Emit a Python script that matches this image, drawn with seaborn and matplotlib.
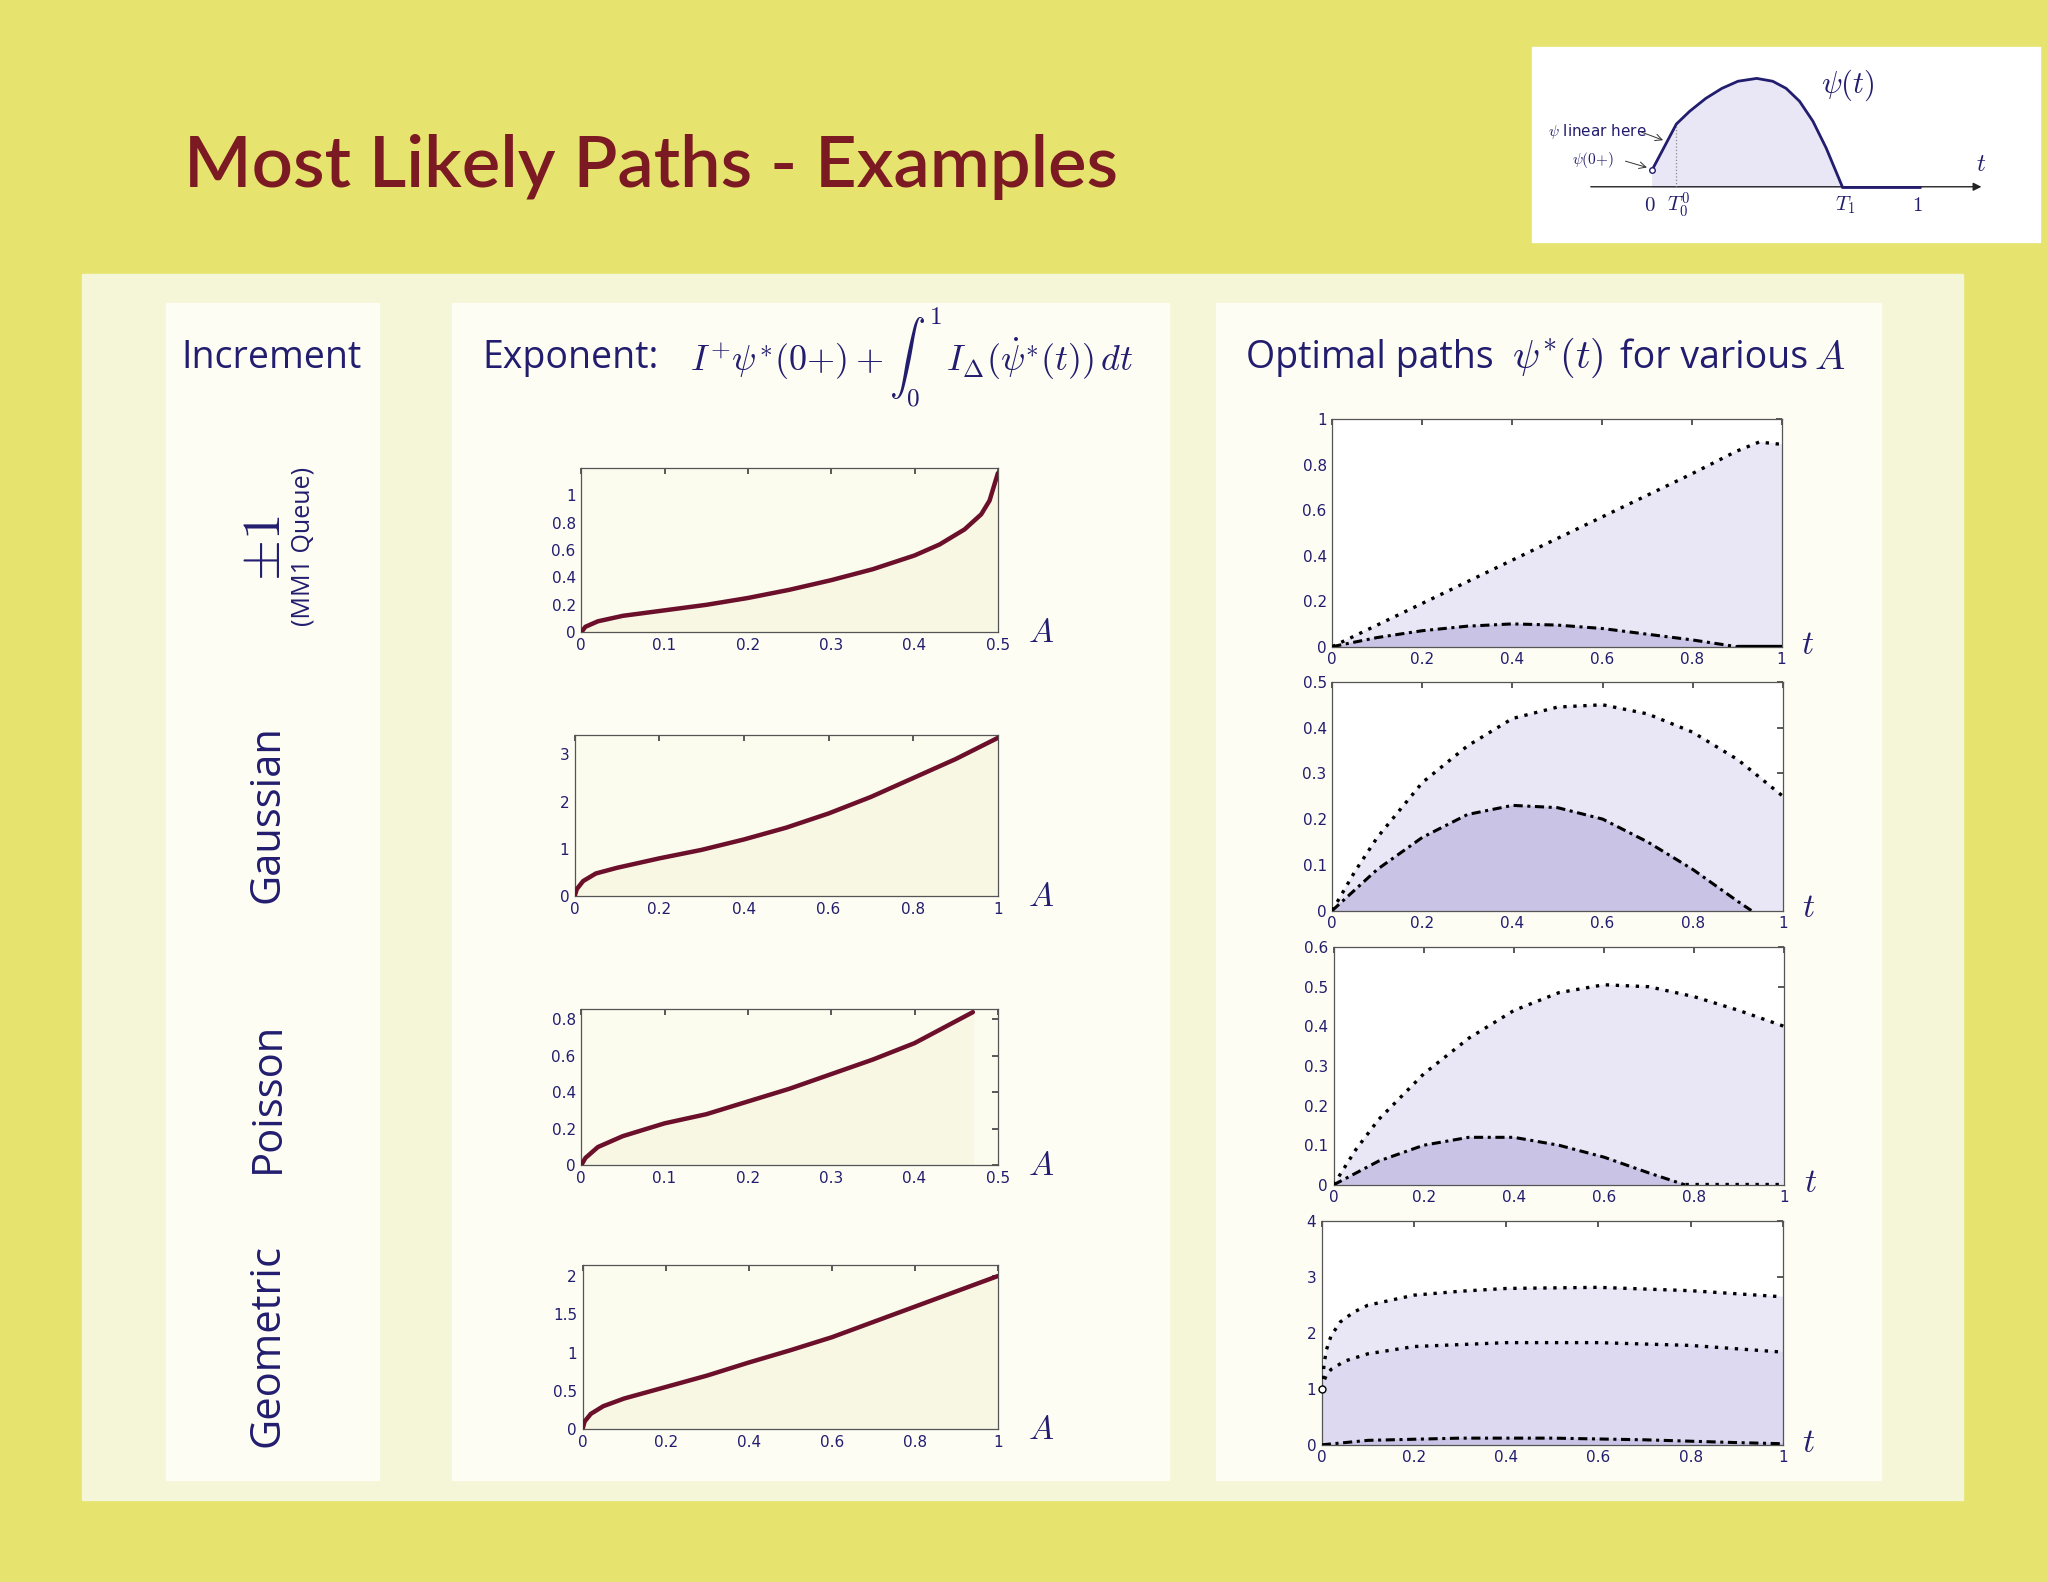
import matplotlib
matplotlib.use("Agg")
import matplotlib.pyplot as plt
import seaborn as sns
import numpy as np
from matplotlib.patches import Rectangle, FancyArrowPatch

sns.set_theme(style="white")
plt.rcParams['font.family'] = ['DejaVu Sans']
plt.rcParams['mathtext.fontset'] = 'cm'

# ---------------- data ----------------
row_labels = ["±1", "Gaussian", "Poisson", "Geometric"]

exp_A = [
    [0, 0.005, 0.02, 0.05, 0.1, 0.15, 0.2, 0.25, 0.3, 0.35, 0.4, 0.43, 0.46, 0.48, 0.49, 0.5],
    [0, 0.005, 0.02, 0.05, 0.1, 0.2, 0.3, 0.4, 0.5, 0.6, 0.7, 0.8, 0.9, 1.0],
    [0, 0.005, 0.02, 0.05, 0.1, 0.15, 0.2, 0.25, 0.3, 0.35, 0.4, 0.47],
    [0, 0.005, 0.02, 0.05, 0.1, 0.2, 0.3, 0.4, 0.5, 0.6, 0.7, 0.8, 0.9, 1.0],
]
exp_val = [
    [0, 0.04, 0.08, 0.12, 0.16, 0.2, 0.25, 0.31, 0.38, 0.46, 0.56, 0.64, 0.75, 0.86, 0.96, 1.16],
    [0, 0.15, 0.32, 0.48, 0.6, 0.8, 0.98, 1.2, 1.45, 1.75, 2.1, 2.5, 2.9, 3.35],
    [0, 0.04, 0.1, 0.16, 0.23, 0.28, 0.35, 0.42, 0.5, 0.58, 0.67, 0.84],
    [0, 0.1, 0.2, 0.3, 0.4, 0.55, 0.7, 0.87, 1.03, 1.2, 1.4, 1.6, 1.8, 2.0],
]
exp_xlim = [0.5, 1, 0.5, 1]
exp_ylim = [1.2, 3.4, 0.86, 2.15]
exp_xticks = [[0, 0.1, 0.2, 0.3, 0.4, 0.5], [0, 0.2, 0.4, 0.6, 0.8, 1],
              [0, 0.1, 0.2, 0.3, 0.4, 0.5], [0, 0.2, 0.4, 0.6, 0.8, 1]]
exp_yticks = [[0, 0.2, 0.4, 0.6, 0.8, 1], [0, 1, 2, 3],
              [0, 0.2, 0.4, 0.6, 0.8], [0, 0.5, 1, 1.5, 2]]

t_outer = [
    [0, 0.2, 0.4, 0.6, 0.8, 0.9, 0.95, 1.0],
    [0, 0.05, 0.1, 0.2, 0.3, 0.4, 0.5, 0.6, 0.7, 0.8, 0.9, 1.0],
    [0, 0.05, 0.1, 0.2, 0.3, 0.4, 0.5, 0.6, 0.7, 0.8, 0.9, 1.0],
    [0, 0.005, 0.01, 0.02, 0.04, 0.07, 0.1, 0.2, 0.3, 0.4, 0.6, 0.8, 1.0],
]
outer = [
    [0, 0.19, 0.38, 0.57, 0.76, 0.86, 0.9, 0.89],
    [0, 0.085, 0.16, 0.28, 0.36, 0.42, 0.445, 0.45, 0.43, 0.39, 0.33, 0.25],
    [0, 0.09, 0.165, 0.28, 0.37, 0.44, 0.485, 0.505, 0.5, 0.475, 0.44, 0.4],
    [1, 1.45, 1.7, 1.95, 2.2, 2.38, 2.5, 2.68, 2.75, 2.8, 2.82, 2.76, 2.65],
]
t_inner = [
    [0, 0.1, 0.2, 0.3, 0.4, 0.5, 0.6, 0.7, 0.8, 0.9],
    [0, 0.1, 0.2, 0.3, 0.4, 0.5, 0.6, 0.7, 0.8, 0.9, 0.93],
    [0, 0.1, 0.2, 0.3, 0.4, 0.5, 0.6, 0.7, 0.78],
    [0, 0.1, 0.3, 0.5, 0.7, 0.9, 1.0],
]
inner = [
    [0, 0.04, 0.07, 0.09, 0.1, 0.095, 0.08, 0.055, 0.03, 0.0],
    [0, 0.09, 0.16, 0.21, 0.23, 0.225, 0.2, 0.15, 0.09, 0.02, 0.0],
    [0, 0.06, 0.1, 0.12, 0.12, 0.1, 0.07, 0.03, 0.0],
    [0, 0.08, 0.12, 0.12, 0.09, 0.04, 0.02],
]
t_mid4 = [0, 0.005, 0.01, 0.02, 0.05, 0.1, 0.2, 0.4, 0.6, 0.8, 1.0]
mid4 = [1, 1.15, 1.25, 1.35, 1.5, 1.63, 1.76, 1.83, 1.83, 1.78, 1.66]
opt_ylim = [1, 0.5, 0.6, 4]
opt_yticks = [[0, 0.2, 0.4, 0.6, 0.8, 1], [0, 0.1, 0.2, 0.3, 0.4, 0.5],
              [0, 0.1, 0.2, 0.3, 0.4, 0.5, 0.6], [0, 1, 2, 3, 4]]
opt_xticks = [0, 0.2, 0.4, 0.6, 0.8, 1]

inset_t = [0.0, 0.09, 0.14, 0.2, 0.26, 0.32, 0.39, 0.45, 0.5, 0.55, 0.6, 0.65, 0.71]
inset_psi = [0.12, 0.44, 0.53, 0.62, 0.69, 0.74, 0.76, 0.74, 0.69, 0.6, 0.46, 0.27, 0.0]

# ---------------- style ----------------
YEL = "#E6E46E"
CREAM = "#F5F5D8"
BOX = "#FDFDF4"
NAVY = "#221D6E"
RED = "#7B1A22"
CURVE = "#6B0F2A"
LAV1 = "#E9E7F6"
LAV2 = "#C9C4E6"

W, H = 1568, 1211
fig = plt.figure(figsize=(20.48, 15.82), dpi=100, facecolor=YEL)

def rect(x0, y0, x1, y1, color):
    fig.patches.append(Rectangle((x0 / W, 1 - y1 / H), (x1 - x0) / W, (y1 - y0) / H,
                                 transform=fig.transFigure, color=color, zorder=-10))

def axbox(x0, y0, x1, y1):
    return fig.add_axes([x0 / W, 1 - y1 / H, (x1 - x0) / W, (y1 - y0) / H])

def ftext(x, y, s, **kw):
    fig.text(x / W, 1 - y / H, s, **kw)

rect(63, 210, 1503, 1148, CREAM)
rect(127, 232, 290, 1133, BOX)
rect(346, 232, 895, 1133, BOX)
rect(931, 232, 1440, 1133, BOX)
rect(1173, 36, 1562, 185, "white")

ftext(141, 128, "Most Likely Paths - Examples", color=RED, fontsize=52,
      va="center", ha="left", family="Lato", weight="semibold")

ftext(208, 274, "Increment", color=NAVY, fontsize=27, ha="center", va="center", family="Open Sans")
ftext(369, 274, "Exponent:", color=NAVY, fontsize=27, ha="left", va="center", family="Open Sans")
ftext(528, 274, r"$I^{+}\psi^{*}(0{+}) + \int_0^1\, I_\Delta(\dot{\psi}^{*}(t))\,dt$",
      color=NAVY, fontsize=26, ha="left", va="center")
ftext(954, 274, "Optimal paths", color=NAVY, fontsize=27, ha="left", va="center", family="Open Sans")
ftext(1158, 274, r"$\psi^{*}(t)$", color=NAVY, fontsize=29, ha="left", va="center")
ftext(1240, 274, "for various", color=NAVY, fontsize=27, ha="left", va="center", family="Open Sans")
ftext(1389, 274, r"$A$", color=NAVY, fontsize=29, ha="left", va="center")

# row labels
ftext(203, 420, r"$\pm 1$", color=NAVY, fontsize=38, rotation=90, ha="center", va="center")
ftext(232, 418, "(MM1 Queue)", color=NAVY, fontsize=18, rotation=90, ha="center", va="center", family="Open Sans")
for lab, yc in zip(row_labels[1:], [623, 840, 1030]):
    ftext(205, yc, lab, color=NAVY, fontsize=30, rotation=90, ha="center", va="center", family="Open Sans")

left_boxes = [(445, 358, 764, 484), (440, 563, 764, 686), (445, 772, 764, 892), (446, 968, 764, 1094)]
right_boxes = [(1020, 321, 1364, 495), (1020, 522, 1365, 697), (1021, 725, 1366, 907), (1012, 935, 1365, 1106)]

def style_ax(ax):
    ax.tick_params(direction="in", length=4, labelsize=11, labelcolor=NAVY, color="#444",
                   top=True, right=True, pad=4)
    for s in ax.spines.values():
        s.set_color("#555")
        s.set_linewidth(0.9)
    ax.set_xlabel("")
    ax.set_ylabel("")

def fmt(v):
    return f"{v:g}"

for i, b in enumerate(left_boxes):
    ax = axbox(*b)
    ax.set_facecolor("#FBFBEE")
    ax.fill_between(exp_A[i], exp_val[i], color="#F7F7E4", zorder=1)
    sns.lineplot(x=exp_A[i], y=exp_val[i], ax=ax, color=CURVE, lw=3.2, zorder=3)
    ax.set_xlim(0, exp_xlim[i]); ax.set_ylim(0, exp_ylim[i])
    ax.set_xticks(exp_xticks[i]); ax.set_xticklabels([fmt(v) for v in exp_xticks[i]])
    ax.set_yticks(exp_yticks[i]); ax.set_yticklabels([fmt(v) for v in exp_yticks[i]])
    style_ax(ax)
    ftext(b[2] + 33, b[3], r"$A$", color=NAVY, fontsize=24, ha="center", va="center")

for i, b in enumerate(right_boxes):
    ax = axbox(*b)
    ax.set_facecolor("white")
    ax.fill_between(t_outer[i], outer[i], color=LAV1, zorder=1)
    if i == 3:
        ax.fill_between(t_mid4, mid4, color="#DCD9F0", zorder=1.5)
        sns.lineplot(x=t_mid4, y=mid4, ax=ax, color="black", lw=2.4, ls=(0, (1, 2)), zorder=3)
        ax.plot([0], [1], marker="o", mfc="white", mec="black", ms=5, zorder=5, clip_on=False)
    ax.fill_between(t_inner[i], inner[i], color=LAV2, zorder=2)
    sns.lineplot(x=t_outer[i], y=outer[i], ax=ax, color="black", lw=2.4, ls=(0, (1, 2)), zorder=3)
    sns.lineplot(x=t_inner[i], y=inner[i], ax=ax, color="black", lw=2.2, ls=(0, (3, 1.5, 1, 1.5)), zorder=3)
    if i == 0:
        ax.plot([0.9, 1.0], [0.003, 0.003], color="black", lw=2.4, zorder=3)
    if i == 2:
        ax.plot([0.78, 1.0], [0.002, 0.002], color="black", lw=2.4, ls=(0, (1, 2)), zorder=3)
    ax.set_xlim(0, 1); ax.set_ylim(0, opt_ylim[i])
    ax.set_xticks(opt_xticks); ax.set_xticklabels([fmt(v) for v in opt_xticks])
    ax.set_yticks(opt_yticks[i]); ax.set_yticklabels([fmt(v) for v in opt_yticks[i]])
    style_ax(ax)
    ftext(b[2] + 20, b[3] - 2, r"$t$", color=NAVY, fontsize=24, ha="center", va="center")

# inset (data coords: x=(px-1265)/205, y=(143-py)/109)
ax = axbox(1173, 36, 1562, 185)
ax.set_facecolor("white")
ax.set_xlim(-0.449, 1.449); ax.set_ylim(-0.385, 0.98)
ax.axis("off")
ax.fill_between(inset_t, inset_psi, color=LAV1)
sns.lineplot(x=inset_t, y=inset_psi, ax=ax, color=NAVY, lw=2)
ax.plot([0.71, 1.0], [0, 0], color=NAVY, lw=2)
ax.add_patch(FancyArrowPatch((-0.24, 0), (1.24, 0), arrowstyle="-|>", mutation_scale=12, color="#222", lw=1))
ax.plot([0.09, 0.09], [0, 0.44], color="#888", lw=0.9, ls=":")
ax.plot([0.0], [0.12], marker="o", mfc="white", mec=NAVY, ms=4, zorder=5)
ax.text(-0.01, -0.13, r"$0$", color=NAVY, fontsize=15, ha="center", va="center")
ax.text(0.1, -0.13, r"$T_0^0$", color=NAVY, fontsize=15, ha="center", va="center")
ax.text(0.72, -0.13, r"$T_1$", color=NAVY, fontsize=15, ha="center", va="center")
ax.text(0.99, -0.13, r"$1$", color=NAVY, fontsize=15, ha="center", va="center")
ax.text(1.23, 0.16, r"$t$", color=NAVY, fontsize=18, ha="center", va="center")
ax.text(0.73, 0.71, r"$\psi(t)$", color=NAVY, fontsize=22, ha="center", va="center")
ax.text(-0.39, 0.39, r"$\psi$ linear here", color=NAVY, fontsize=11, ha="left", va="center")
ax.text(-0.3, 0.185, r"$\psi(0{+})$", color=NAVY, fontsize=11, ha="left", va="center")
ax.annotate("", xy=(0.05, 0.32), xytext=(-0.05, 0.39), arrowprops=dict(arrowstyle="->", color="#333", lw=0.7))
ax.annotate("", xy=(-0.01, 0.13), xytext=(-0.11, 0.185), arrowprops=dict(arrowstyle="->", color="#333", lw=0.7))

fig.savefig("out.png", dpi=100, facecolor=YEL)
